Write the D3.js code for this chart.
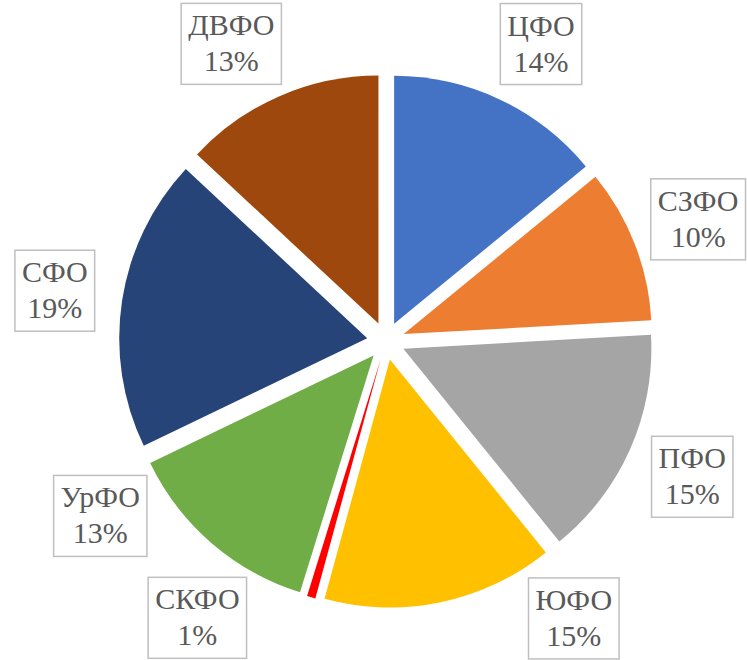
<!DOCTYPE html>
<html>
<head>
<meta charset="utf-8">
<script src="https://cdn.jsdelivr.net/npm/d3@7"></script>
<style>
  body { margin: 0; background: #fff; }
  text { font-family: "Liberation Serif", "Times New Roman", "DejaVu Serif", serif; fill: #595959; }
</style>
</head>
<body>
<svg width="747" height="660"></svg>
<script>
// data
const regions = ["ЦФО", "СЗФО", "ПФО", "ЮФО", "СКФО", "УрФО", "СФО", "ДВФО"];
const shares = [14, 10, 15, 15, 0.55, 13, 19, 13];
const sliceColors = ["#4472C4", "#ED7D31", "#A5A5A5", "#FFC000", "#FF0000", "#70AD47", "#264478", "#9E480E"];

const svg = d3.select("svg"),
      width = +svg.attr("width"),
      height = +svg.attr("height");

const cx = 386, cy = 341, radius = 248, explode = 19, labelRadius = 335;
const fontSize = 30, lineGap = 36, padX = 7, boxH = 81, boxGap = 20;

const pie = d3.pie().sort(null).value(d => d);
const arcs = pie(shares);
const arc = d3.arc().innerRadius(0).outerRadius(radius);
const total = d3.sum(shares);
const pct = d3.format(".0%");
const color = d3.scaleOrdinal().domain(regions).range(sliceColors);
const mid = d => (d.startAngle + d.endAngle) / 2;

const g = svg.append("g").attr("transform", `translate(${cx},${cy})`);

g.selectAll("path.slice")
  .data(arcs)
  .join("path")
  .attr("class", "slice")
  .attr("d", arc)
  .attr("fill", (d, i) => color(regions[i]))
  .attr("transform", d => `translate(${Math.sin(mid(d)) * explode},${-Math.cos(mid(d)) * explode})`);

// labels: boxed, on a circle round the pie, slid along it to stay inside and apart
const labelG = svg.append("g");
const placed = [];

function boxAt(a, w) {
  const x = cx + labelRadius * Math.sin(a), y = cy - labelRadius * Math.cos(a);
  return { x, y, x0: x - w / 2, x1: x + w / 2, y0: y - boxH / 2, y1: y + boxH / 2 };
}

function fits(b) {
  if (b.x0 < 1 || b.x1 > width - 1 || b.y0 < 3 || b.y1 > height - 1) return false;
  return placed.every(p => b.x1 + boxGap <= p.x0 || b.x0 >= p.x1 + boxGap ||
                           b.y1 + boxGap <= p.y0 || b.y0 >= p.y1 + boxGap);
}

arcs.forEach((d, i) => {
  const grp = labelG.append("g");
  const rect = grp.append("rect")
    .attr("fill", "#fff")
    .attr("stroke", "#BFBFBF")
    .attr("stroke-width", 1.5);
  const t1 = grp.append("text")
    .attr("text-anchor", "middle")
    .attr("font-size", fontSize)
    .text(regions[i]);
  const t2 = grp.append("text")
    .attr("text-anchor", "middle")
    .attr("font-size", fontSize)
    .text(pct(d.value / total));

  const w = Math.max(t1.node().getComputedTextLength(), t2.node().getComputedTextLength()) + 2 * padX;

  let best = null;
  for (let k = 0; k <= 360 && !best; k++) {
    for (const s of [1, -1]) {
      const b = boxAt(mid(d) + s * k * Math.PI / 720, w);
      if (fits(b)) { best = b; break; }
    }
  }
  if (!best) best = boxAt(mid(d), w);
  placed.push(best);

  rect.attr("x", best.x0).attr("y", best.y0).attr("width", w).attr("height", boxH);
  t1.attr("x", best.x).attr("y", best.y0 + 32);
  t2.attr("x", best.x).attr("y", best.y0 + 32 + lineGap);
});
</script>
</body>
</html>
